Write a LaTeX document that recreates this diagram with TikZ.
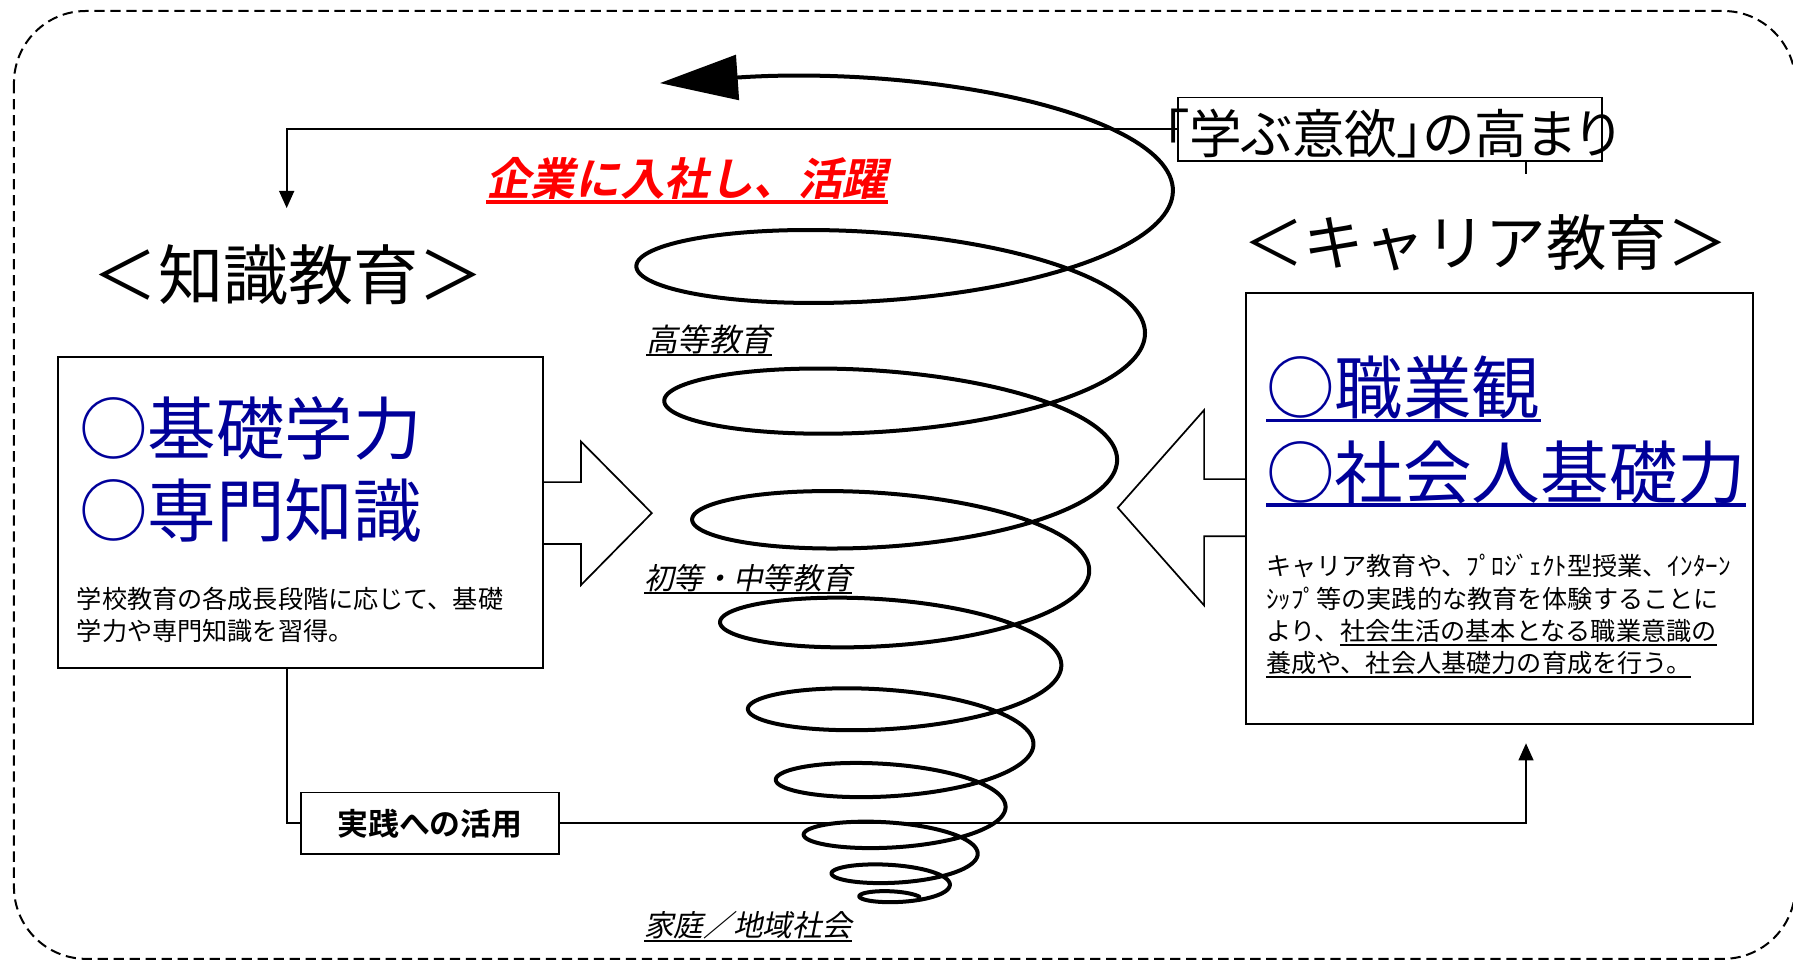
\documentclass[tikz,border=0pt]{standalone}
\usepackage{fontspec}
\usetikzlibrary{arrows.meta}
\newfontfamily\jp{Noto Sans CJK JP}
\newfontfamily\jppalt{Noto Sans CJK JP}[RawFeature=+palt]
\newfontfamily\jpsl{Noto Sans CJK JP}[FakeSlant=0.2]
\newfontfamily\jpb{Noto Sans CJK JP Bold}
\newfontfamily\jpbsl{Noto Sans CJK JP Bold}[FakeSlant=0.2]
\definecolor{kblue}{RGB}{0,0,153}
\definecolor{kred}{RGB}{255,0,0}
\newcommand\myul[3]{\setbox0=\hbox{#3}\leavevmode\rlap{\rule[-#1]{\wd0}{#2}}\box0}
\newcommand\fs[1]{\fontsize{#1}{#1}\selectfont}
\begin{document}
\begin{tikzpicture}[x=1pt,y=-1pt,
  box/.style={draw, line width=1.5pt, inner sep=0pt},
  txt/.style={inner sep=0pt, anchor=base west},
  connline/.style={line width=1.7pt},
  arr/.style={-{Triangle[length=15pt,width=13pt]}},
  bigarrow/.style={line width=1.5pt, line join=miter},
  spiral/.style={line width=3.5pt, line join=round, line cap=round}]
\useasboundingbox (0,0) rectangle (1568,839);
% dashed frame
\draw[dash pattern=on 9pt off 5pt, line width=1.75pt, rounded corners=63pt] (12.2,9.6) rectangle (1570,838.5);

% boxes
\node[box, minimum width=424.3pt, minimum height=271.9pt] (knowbox) at (262.85,448.45) {};
\node[box, minimum width=443.4pt, minimum height=377pt] (carbox) at (1311.3,444.5) {};
\node[box, minimum width=371pt, minimum height=55.7pt] (motivbox) at (1215.5,113.15) {};
\node[box, minimum width=226pt, minimum height=54pt, font=\jpb\fs{27}] (practbox) at (376,720) {実践への活用};

% hollow arrows
\draw[bigarrow] (knowbox.east |- 0,421.6) -- (508,421.6) -- (508,386) -- (570,448.7) -- (508,511.7) -- (508,475.8) -- (knowbox.east |- 0,475.8);
\draw[bigarrow] (carbox.west |- 0,419) -- (1053,419) -- (1053,358.6) -- (977.5,444) -- (1053,529.4) -- (1053,469) -- (carbox.west |- 0,469);

% spiral
\draw[spiral] plot[domain=-0.345:8.9, samples=1400, variable=\u]
  ({785+(240.7-24.4*\u)*cos(360*\u)}, {168+131.7*\u-6.98*\u*\u+(63-6.5*\u)*sin(360*\u)});
\fill (577.2,72.65) -- (646.4,87.7) -- (643.6,47.8) -- cycle;

% titles and texts
\node[txt, font=\jppalt\fs{46}] (motiv) at (1017,134.5) {「学ぶ意欲」の高まり};
\node[txt, font=\jp\fs{57}] (knowtitle) at (81,262) {＜知識教育＞};
\node[txt, font=\jp\fs{53}] (cartitle) at (1087,232.5) {＜キャリア教育＞};
\node[txt, font=\jpbsl\fs{39}, text=kred] (kigyo) at (425,171) {\myul{7pt}{3pt}{企業に入社し、活躍}};

\node[txt, font=\jp\fs{60}, text=kblue] (kiso) at (69,397.5) {○基礎学力};
\node[txt, font=\jp\fs{60}, text=kblue] (senmon) at (69,469.5) {○専門知識};
\node[txt, font=\jp\fs{60}, text=kblue] (shokugyo) at (1107,362) {\myul{7pt}{3pt}{○職業観}};
\node[txt, font=\jp\fs{60}, text=kblue] (shakai) at (1107,436) {\myul{7pt}{3pt}{○社会人基礎力}};

\node[txt, font=\jp\fs{22}] (kb1) at (67,532.2) {学校教育の各成長段階に応じて、基礎};
\node[txt, font=\jp\fs{22}] (kb2) at (67,559.9) {学力や専門知識を習得。};
\node[txt, font=\jp\fs{22}] (cb1) at (1107,503.4) {キャリア教育や、ﾌﾟﾛｼﾞｪｸﾄ型授業、ｲﾝﾀｰﾝ};
\node[txt, font=\jp\fs{22}] (cb2) at (1107,532.4) {ｼｯﾌﾟ等の実践的な教育を体験することに};
\node[txt, font=\jp\fs{22}] (cb3) at (1107,560.4) {より、\myul{4.5pt}{1.5pt}{社会生活の基本となる職業意識の}};
\node[txt, font=\jp\fs{22}] (cb4) at (1107,588.4) {\myul{4.5pt}{1.5pt}{養成や、社会人基礎力の育成を行う。}};

\node[txt, font=\jpsl\fs{27.5}] (koto) at (565,307) {\myul{4pt}{1.5pt}{高等教育}};
\node[txt, font=\jpsl\fs{26}] (shoto) at (563,515.6) {\myul{4pt}{1.5pt}{初等・中等教育}};
\node[txt, font=\jpsl\fs{26}] (katei) at (563,819) {\myul{4.5pt}{1.5pt}{家庭／地域社会}};

% connectors
\coordinate (knowtip) at (250.7,182);
\coordinate (cartip) at (1334.5,650);
\draw[connline, arr] (motivbox.west) -| (knowtip);
\draw[connline] (knowbox.south -| knowtip) |- (practbox.west);
\draw[connline, arr] (practbox.east) -| (cartip);
\draw[line width=1pt] (motivbox.south -| cartip) -- ++(0,10.2);
\end{tikzpicture}
\end{document}
